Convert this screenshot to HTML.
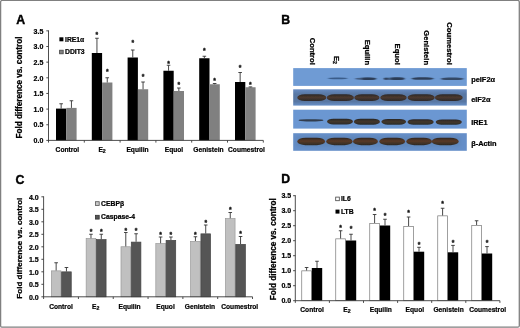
<!DOCTYPE html>
<html lang="en"><head><meta charset="utf-8"><title>Figure</title>
<style>html,body{margin:0;padding:0;background:#fff}body{width:520px;height:328px;overflow:hidden}svg{display:block}text{font-family:"Liberation Sans", sans-serif;}</style>
</head><body>
<svg width="520" height="328" viewBox="0 0 520 328">
<defs><filter id="b1" x="-20%" y="-100%" width="140%" height="300%"><feGaussianBlur stdDeviation="0.8 0.45"/></filter><filter id="b2" x="-20%" y="-50%" width="140%" height="200%"><feGaussianBlur stdDeviation="0.7 0.5"/></filter><linearGradient id="blue" x1="0" x2="1" y1="0" y2="0"><stop offset="0" stop-color="#5f8fd0"/><stop offset="0.5" stop-color="#6c98d2"/><stop offset="1" stop-color="#6794d0"/></linearGradient><linearGradient id="row2" x1="0" x2="0" y1="0" y2="1"><stop offset="0" stop-color="#678bc2"/><stop offset="0.3" stop-color="#5877a3"/><stop offset="0.75" stop-color="#5877a3"/><stop offset="1" stop-color="#6890c8"/></linearGradient><filter id="b3" x="-10%" y="-50%" width="120%" height="200%"><feGaussianBlur stdDeviation="2 1.5"/></filter><linearGradient id="brown" x1="0" x2="0" y1="0" y2="1"><stop offset="0" stop-color="#2e2622"/><stop offset="0.45" stop-color="#5a3a28"/><stop offset="1" stop-color="#2c2a26"/></linearGradient><linearGradient id="brown2" x1="0" x2="0" y1="0" y2="1"><stop offset="0" stop-color="#2c2828"/><stop offset="0.45" stop-color="#4c382e"/><stop offset="1" stop-color="#2c2a2a"/></linearGradient><linearGradient id="brown3" x1="0" x2="0" y1="0" y2="1"><stop offset="0" stop-color="#282626"/><stop offset="0.5" stop-color="#43372c"/><stop offset="1" stop-color="#282a2a"/></linearGradient></defs>
<rect x="0" y="0" width="520" height="328" fill="#fff"/>
<rect x="0.6" y="0.45" width="518.7" height="326.7" rx="1.5" ry="1.5" fill="none" stroke="#808080" stroke-width="1.3"/>
<rect x="56.00" y="108.60" width="10.30" height="31.80" fill="#000"/>
<path d="M61.15 108.60V103.75M59.35 103.75H62.95" stroke="#333" stroke-width="0.9" fill="none"/>
<rect x="66.30" y="107.90" width="10.30" height="32.50" fill="#808080"/>
<path d="M71.45 107.90V100.75M69.65 100.75H73.25" stroke="#333" stroke-width="0.9" fill="none"/>
<rect x="91.80" y="53.00" width="10.30" height="87.40" fill="#000"/>
<path d="M96.95 53.00V38.25M95.15 38.25H98.75" stroke="#333" stroke-width="0.9" fill="none"/>
<text x="96.95" y="36.70" font-size="6.8" text-anchor="middle" font-weight="bold" fill="#111" stroke="#111" stroke-width="0.3">*</text>
<rect x="102.10" y="82.50" width="10.30" height="57.90" fill="#808080"/>
<path d="M107.25 82.50V77.75M105.45 77.75H109.05" stroke="#333" stroke-width="0.9" fill="none"/>
<text x="107.25" y="74.45" font-size="6.8" text-anchor="middle" font-weight="bold" fill="#111" stroke="#111" stroke-width="0.3">*</text>
<rect x="127.60" y="57.50" width="10.30" height="82.90" fill="#000"/>
<path d="M132.75 57.50V50.00M130.95 50.00H134.55" stroke="#333" stroke-width="0.9" fill="none"/>
<text x="132.75" y="45.20" font-size="6.8" text-anchor="middle" font-weight="bold" fill="#111" stroke="#111" stroke-width="0.3">*</text>
<rect x="137.90" y="89.25" width="10.30" height="51.15" fill="#808080"/>
<path d="M143.05 89.25V82.00M141.25 82.00H144.85" stroke="#333" stroke-width="0.9" fill="none"/>
<text x="143.05" y="78.95" font-size="6.8" text-anchor="middle" font-weight="bold" fill="#111" stroke="#111" stroke-width="0.3">*</text>
<rect x="163.40" y="70.75" width="10.30" height="69.65" fill="#000"/>
<path d="M168.55 70.75V65.25M166.75 65.25H170.35" stroke="#333" stroke-width="0.9" fill="none"/>
<text x="168.55" y="65.95" font-size="6.8" text-anchor="middle" font-weight="bold" fill="#111" stroke="#111" stroke-width="0.3">*</text>
<rect x="173.70" y="91.00" width="10.30" height="49.40" fill="#808080"/>
<path d="M178.85 91.00V88.00M177.05 88.00H180.65" stroke="#333" stroke-width="0.9" fill="none"/>
<text x="178.85" y="87.20" font-size="6.8" text-anchor="middle" font-weight="bold" fill="#111" stroke="#111" stroke-width="0.3">*</text>
<rect x="199.20" y="58.25" width="10.30" height="82.15" fill="#000"/>
<path d="M204.35 58.25V56.25M202.55 56.25H206.15" stroke="#333" stroke-width="0.9" fill="none"/>
<text x="204.35" y="53.45" font-size="6.8" text-anchor="middle" font-weight="bold" fill="#111" stroke="#111" stroke-width="0.3">*</text>
<rect x="209.50" y="84.25" width="10.30" height="56.15" fill="#808080"/>
<path d="M214.65 84.25V83.50M212.85 83.50H216.45" stroke="#333" stroke-width="0.9" fill="none"/>
<text x="214.65" y="82.95" font-size="6.8" text-anchor="middle" font-weight="bold" fill="#111" stroke="#111" stroke-width="0.3">*</text>
<rect x="235.00" y="82.00" width="10.30" height="58.40" fill="#000"/>
<path d="M240.15 82.00V72.50M238.35 72.50H241.95" stroke="#333" stroke-width="0.9" fill="none"/>
<text x="240.15" y="70.20" font-size="6.8" text-anchor="middle" font-weight="bold" fill="#111" stroke="#111" stroke-width="0.3">*</text>
<rect x="245.30" y="87.25" width="10.30" height="53.15" fill="#808080"/>
<path d="M250.45 87.25V86.90M248.65 86.90H252.25" stroke="#333" stroke-width="0.9" fill="none"/>
<text x="250.45" y="87.20" font-size="6.8" text-anchor="middle" font-weight="bold" fill="#111" stroke="#111" stroke-width="0.3">*</text>
<path d="M48.5 30.35V142.60M46.3 140.4H263.30" stroke="#3a3a3a" stroke-width="0.9" fill="none"/>
<path d="M46.3 124.75H48.5M46.3 109.10H48.5M46.3 93.45H48.5M46.3 77.80H48.5M46.3 62.15H48.5M46.3 46.50H48.5M46.3 30.85H48.5M84.30 140.4V142.60M120.10 140.4V142.60M155.90 140.4V142.60M191.70 140.4V142.60M227.50 140.4V142.60M263.30 140.4V142.60" stroke="#3a3a3a" stroke-width="0.9" fill="none"/>
<text x="43.3" y="143.1" font-size="7.0" text-anchor="end" font-weight="bold" fill="#000" stroke="#000" stroke-width="0.22">0.0</text>
<text x="43.3" y="127.45" font-size="7.0" text-anchor="end" font-weight="bold" fill="#000" stroke="#000" stroke-width="0.22">0.5</text>
<text x="43.3" y="111.8" font-size="7.0" text-anchor="end" font-weight="bold" fill="#000" stroke="#000" stroke-width="0.22">1.0</text>
<text x="43.3" y="96.15" font-size="7.0" text-anchor="end" font-weight="bold" fill="#000" stroke="#000" stroke-width="0.22">1.5</text>
<text x="43.3" y="80.5" font-size="7.0" text-anchor="end" font-weight="bold" fill="#000" stroke="#000" stroke-width="0.22">2.0</text>
<text x="43.3" y="64.85" font-size="7.0" text-anchor="end" font-weight="bold" fill="#000" stroke="#000" stroke-width="0.22">2.5</text>
<text x="43.3" y="49.2" font-size="7.0" text-anchor="end" font-weight="bold" fill="#000" stroke="#000" stroke-width="0.22">3.0</text>
<text x="43.3" y="33.55" font-size="7.0" text-anchor="end" font-weight="bold" fill="#000" stroke="#000" stroke-width="0.22">3.5</text>
<text x="67.4" y="151.7" font-size="6.65" text-anchor="middle" font-weight="bold" fill="#000" stroke="#000" stroke-width="0.21">Control</text>
<text x="102.1" y="151.7" font-size="6.65" text-anchor="middle" font-weight="bold" fill="#000" stroke="#000" stroke-width="0.21">E<tspan font-size="5.2" dy="1.4">2</tspan></text>
<text x="137.5" y="151.7" font-size="6.65" text-anchor="middle" font-weight="bold" fill="#000" stroke="#000" stroke-width="0.21">Equilin</text>
<text x="174.0" y="151.7" font-size="6.65" text-anchor="middle" font-weight="bold" fill="#000" stroke="#000" stroke-width="0.21">Equol</text>
<text x="208.5" y="151.7" font-size="6.65" text-anchor="middle" font-weight="bold" fill="#000" stroke="#000" stroke-width="0.21">Genistein</text>
<text x="246.5" y="151.7" font-size="6.65" text-anchor="middle" font-weight="bold" fill="#000" stroke="#000" stroke-width="0.21">Coumestrol</text>
<text x="21.6" y="87.5" font-size="8.17" text-anchor="middle" font-weight="bold" fill="#000" stroke="#000" stroke-width="0.26" transform="rotate(-90 21.6 87.5)">Fold difference vs. control</text>
<text x="16.2" y="24.2" font-size="12.3" text-anchor="start" font-weight="bold" fill="#000" stroke="#000" stroke-width="0.39">A</text>
<rect x="59.4" y="37.3" width="4" height="4" fill="#000"/>
<text x="65" y="41.6" font-size="6.8" text-anchor="start" font-weight="bold" fill="#000" stroke="#000" stroke-width="0.22">IRE1α</text>
<rect x="59.6" y="50.2" width="3.6" height="3.6" fill="#808080" stroke="#444" stroke-width="0.8"/>
<text x="65" y="54.1" font-size="6.8" text-anchor="start" font-weight="bold" fill="#000" stroke="#000" stroke-width="0.22">DDIT3</text>
<rect x="51.35" y="270.85" width="9.60" height="25.95" fill="#c0c0c0" stroke="#999" stroke-width="0.7"/>
<path d="M56.15 270.50V262.75M54.35 262.75H57.95" stroke="#333" stroke-width="0.9" fill="none"/>
<rect x="61.65" y="271.85" width="9.60" height="24.95" fill="#555" stroke="#444" stroke-width="0.7"/>
<path d="M66.45 271.50V267.50M64.65 267.50H68.25" stroke="#333" stroke-width="0.9" fill="none"/>
<rect x="86.17" y="238.60" width="9.60" height="58.20" fill="#c0c0c0" stroke="#999" stroke-width="0.7"/>
<path d="M90.97 238.25V234.25M89.17 234.25H92.77" stroke="#333" stroke-width="0.9" fill="none"/>
<text x="90.97" y="234.45" font-size="6.8" text-anchor="middle" font-weight="bold" fill="#111" stroke="#111" stroke-width="0.3">*</text>
<rect x="96.47" y="239.60" width="9.60" height="57.20" fill="#555" stroke="#444" stroke-width="0.7"/>
<path d="M101.27 239.25V234.25M99.47 234.25H103.07" stroke="#333" stroke-width="0.9" fill="none"/>
<text x="101.27" y="234.45" font-size="6.8" text-anchor="middle" font-weight="bold" fill="#111" stroke="#111" stroke-width="0.3">*</text>
<rect x="120.99" y="246.75" width="9.60" height="50.05" fill="#c0c0c0" stroke="#999" stroke-width="0.7"/>
<path d="M125.79 246.40V232.50M123.99 232.50H127.59" stroke="#333" stroke-width="0.9" fill="none"/>
<text x="125.79" y="233.45" font-size="6.8" text-anchor="middle" font-weight="bold" fill="#111" stroke="#111" stroke-width="0.3">*</text>
<rect x="131.29" y="242.10" width="9.60" height="54.70" fill="#555" stroke="#444" stroke-width="0.7"/>
<path d="M136.09 241.75V233.75M134.29 233.75H137.89" stroke="#333" stroke-width="0.9" fill="none"/>
<text x="136.09" y="233.45" font-size="6.8" text-anchor="middle" font-weight="bold" fill="#111" stroke="#111" stroke-width="0.3">*</text>
<rect x="155.81" y="243.60" width="9.60" height="53.20" fill="#c0c0c0" stroke="#999" stroke-width="0.7"/>
<path d="M160.61 243.25V237.00M158.81 237.00H162.41" stroke="#333" stroke-width="0.9" fill="none"/>
<text x="160.61" y="237.20" font-size="6.8" text-anchor="middle" font-weight="bold" fill="#111" stroke="#111" stroke-width="0.3">*</text>
<rect x="166.11" y="240.35" width="9.60" height="56.45" fill="#555" stroke="#444" stroke-width="0.7"/>
<path d="M170.91 240.00V237.00M169.11 237.00H172.71" stroke="#333" stroke-width="0.9" fill="none"/>
<text x="170.91" y="236.70" font-size="6.8" text-anchor="middle" font-weight="bold" fill="#111" stroke="#111" stroke-width="0.3">*</text>
<rect x="190.63" y="241.35" width="9.60" height="55.45" fill="#c0c0c0" stroke="#999" stroke-width="0.7"/>
<path d="M195.43 241.00V236.75M193.63 236.75H197.23" stroke="#333" stroke-width="0.9" fill="none"/>
<text x="195.43" y="236.95" font-size="6.8" text-anchor="middle" font-weight="bold" fill="#111" stroke="#111" stroke-width="0.3">*</text>
<rect x="200.93" y="233.85" width="9.60" height="62.95" fill="#555" stroke="#444" stroke-width="0.7"/>
<path d="M205.73 233.50V225.00M203.93 225.00H207.53" stroke="#333" stroke-width="0.9" fill="none"/>
<text x="205.73" y="224.70" font-size="6.8" text-anchor="middle" font-weight="bold" fill="#111" stroke="#111" stroke-width="0.3">*</text>
<rect x="225.45" y="218.60" width="9.60" height="78.20" fill="#c0c0c0" stroke="#999" stroke-width="0.7"/>
<path d="M230.25 218.25V212.50M228.45 212.50H232.05" stroke="#333" stroke-width="0.9" fill="none"/>
<text x="230.25" y="212.20" font-size="6.8" text-anchor="middle" font-weight="bold" fill="#111" stroke="#111" stroke-width="0.3">*</text>
<rect x="235.75" y="244.35" width="9.60" height="52.45" fill="#555" stroke="#444" stroke-width="0.7"/>
<path d="M240.55 244.00V236.50M238.75 236.50H242.35" stroke="#333" stroke-width="0.9" fill="none"/>
<text x="240.55" y="236.45" font-size="6.8" text-anchor="middle" font-weight="bold" fill="#111" stroke="#111" stroke-width="0.3">*</text>
<path d="M43.6 196.30V299.00M41.4 296.8H252.52" stroke="#3a3a3a" stroke-width="0.9" fill="none"/>
<path d="M41.4 284.30H43.6M41.4 271.80H43.6M41.4 259.30H43.6M41.4 246.80H43.6M41.4 234.30H43.6M41.4 221.80H43.6M41.4 209.30H43.6M41.4 196.80H43.6M78.42 296.8V299.00M113.24 296.8V299.00M148.06 296.8V299.00M182.88 296.8V299.00M217.70 296.8V299.00M252.52 296.8V299.00" stroke="#3a3a3a" stroke-width="0.9" fill="none"/>
<text x="38.7" y="299.5" font-size="7.0" text-anchor="end" font-weight="bold" fill="#000" stroke="#000" stroke-width="0.22">0.0</text>
<text x="38.7" y="287.0" font-size="7.0" text-anchor="end" font-weight="bold" fill="#000" stroke="#000" stroke-width="0.22">0.5</text>
<text x="38.7" y="274.5" font-size="7.0" text-anchor="end" font-weight="bold" fill="#000" stroke="#000" stroke-width="0.22">1.0</text>
<text x="38.7" y="262.0" font-size="7.0" text-anchor="end" font-weight="bold" fill="#000" stroke="#000" stroke-width="0.22">1.5</text>
<text x="38.7" y="249.5" font-size="7.0" text-anchor="end" font-weight="bold" fill="#000" stroke="#000" stroke-width="0.22">2.0</text>
<text x="38.7" y="237.0" font-size="7.0" text-anchor="end" font-weight="bold" fill="#000" stroke="#000" stroke-width="0.22">2.5</text>
<text x="38.7" y="224.5" font-size="7.0" text-anchor="end" font-weight="bold" fill="#000" stroke="#000" stroke-width="0.22">3.0</text>
<text x="38.7" y="212.0" font-size="7.0" text-anchor="end" font-weight="bold" fill="#000" stroke="#000" stroke-width="0.22">3.5</text>
<text x="38.7" y="199.5" font-size="7.0" text-anchor="end" font-weight="bold" fill="#000" stroke="#000" stroke-width="0.22">4.0</text>
<text x="61.01" y="308.8" font-size="6.65" text-anchor="middle" font-weight="bold" fill="#000" stroke="#000" stroke-width="0.21">Control</text>
<text x="95.78" y="308.8" font-size="6.65" text-anchor="middle" font-weight="bold" fill="#000" stroke="#000" stroke-width="0.21">E<tspan font-size="5.2" dy="1.4">2</tspan></text>
<text x="129.55" y="308.8" font-size="6.65" text-anchor="middle" font-weight="bold" fill="#000" stroke="#000" stroke-width="0.21">Equilin</text>
<text x="165.57" y="308.8" font-size="6.65" text-anchor="middle" font-weight="bold" fill="#000" stroke="#000" stroke-width="0.21">Equol</text>
<text x="199.99" y="308.8" font-size="6.65" text-anchor="middle" font-weight="bold" fill="#000" stroke="#000" stroke-width="0.21">Genistein</text>
<text x="239.71" y="308.8" font-size="6.65" text-anchor="middle" font-weight="bold" fill="#000" stroke="#000" stroke-width="0.21">Coumestrol</text>
<text x="22.3" y="248.2" font-size="8.09" text-anchor="middle" font-weight="bold" fill="#000" stroke="#000" stroke-width="0.26" transform="rotate(-90 22.3 248.2)">Fold difference vs. control</text>
<text x="15.6" y="183.5" font-size="12.3" text-anchor="start" font-weight="bold" fill="#000" stroke="#000" stroke-width="0.39">C</text>
<rect x="95.4" y="201.7" width="3.8" height="3.8" fill="#c8c8c8" stroke="#555" stroke-width="0.8"/>
<text x="101.1" y="205.6" font-size="6.8" text-anchor="start" font-weight="bold" fill="#000" stroke="#000" stroke-width="0.22">CEBPβ</text>
<rect x="95.4" y="215.3" width="3.8" height="3.8" fill="#555" stroke="#333" stroke-width="0.8"/>
<text x="101.1" y="219.2" font-size="6.8" text-anchor="start" font-weight="bold" fill="#000" stroke="#000" stroke-width="0.22">Caspase-4</text>
<rect x="301.75" y="270.85" width="9.70" height="29.85" fill="#fff" stroke="#777" stroke-width="0.7"/>
<path d="M306.60 270.50V267.50M304.80 267.50H308.40" stroke="#333" stroke-width="0.9" fill="none"/>
<rect x="311.80" y="268.00" width="10.40" height="32.70" fill="#000"/>
<path d="M317.00 268.00V261.25M315.20 261.25H318.80" stroke="#333" stroke-width="0.9" fill="none"/>
<rect x="335.75" y="238.85" width="9.70" height="61.85" fill="#fff" stroke="#777" stroke-width="0.7"/>
<path d="M340.60 238.50V230.75M338.80 230.75H342.40" stroke="#333" stroke-width="0.9" fill="none"/>
<text x="340.60" y="230.20" font-size="6.8" text-anchor="middle" font-weight="bold" fill="#111" stroke="#111" stroke-width="0.3">*</text>
<rect x="345.80" y="240.50" width="10.40" height="60.20" fill="#000"/>
<path d="M351.00 240.50V234.25M349.20 234.25H352.80" stroke="#333" stroke-width="0.9" fill="none"/>
<text x="351.00" y="231.45" font-size="6.8" text-anchor="middle" font-weight="bold" fill="#111" stroke="#111" stroke-width="0.3">*</text>
<rect x="369.75" y="223.35" width="9.70" height="77.35" fill="#fff" stroke="#777" stroke-width="0.7"/>
<path d="M374.60 223.00V214.50M372.80 214.50H376.40" stroke="#333" stroke-width="0.9" fill="none"/>
<text x="374.60" y="212.70" font-size="6.8" text-anchor="middle" font-weight="bold" fill="#111" stroke="#111" stroke-width="0.3">*</text>
<rect x="379.80" y="225.50" width="10.40" height="75.20" fill="#000"/>
<path d="M385.00 225.50V219.25M383.20 219.25H386.80" stroke="#333" stroke-width="0.9" fill="none"/>
<text x="385.00" y="218.45" font-size="6.8" text-anchor="middle" font-weight="bold" fill="#111" stroke="#111" stroke-width="0.3">*</text>
<rect x="403.75" y="226.35" width="9.70" height="74.35" fill="#fff" stroke="#777" stroke-width="0.7"/>
<path d="M408.60 226.00V217.00M406.80 217.00H410.40" stroke="#333" stroke-width="0.9" fill="none"/>
<text x="408.60" y="215.45" font-size="6.8" text-anchor="middle" font-weight="bold" fill="#111" stroke="#111" stroke-width="0.3">*</text>
<rect x="413.80" y="251.70" width="10.40" height="49.00" fill="#000"/>
<path d="M419.00 251.70V247.30M417.20 247.30H420.80" stroke="#333" stroke-width="0.9" fill="none"/>
<text x="419.00" y="246.65" font-size="6.8" text-anchor="middle" font-weight="bold" fill="#111" stroke="#111" stroke-width="0.3">*</text>
<rect x="437.75" y="215.85" width="9.70" height="84.85" fill="#fff" stroke="#777" stroke-width="0.7"/>
<path d="M442.60 215.50V208.25M440.80 208.25H444.40" stroke="#333" stroke-width="0.9" fill="none"/>
<text x="442.60" y="206.45" font-size="6.8" text-anchor="middle" font-weight="bold" fill="#111" stroke="#111" stroke-width="0.3">*</text>
<rect x="447.80" y="252.30" width="10.40" height="48.40" fill="#000"/>
<path d="M453.00 252.30V245.40M451.20 245.40H454.80" stroke="#333" stroke-width="0.9" fill="none"/>
<text x="453.00" y="244.95" font-size="6.8" text-anchor="middle" font-weight="bold" fill="#111" stroke="#111" stroke-width="0.3">*</text>
<rect x="471.75" y="225.35" width="9.70" height="75.35" fill="#fff" stroke="#777" stroke-width="0.7"/>
<path d="M476.60 225.00V220.75M474.80 220.75H478.40" stroke="#333" stroke-width="0.9" fill="none"/>
<rect x="481.80" y="253.50" width="10.40" height="47.20" fill="#000"/>
<path d="M487.00 253.50V246.60M485.20 246.60H488.80" stroke="#333" stroke-width="0.9" fill="none"/>
<text x="487.00" y="245.45" font-size="6.8" text-anchor="middle" font-weight="bold" fill="#111" stroke="#111" stroke-width="0.3">*</text>
<path d="M295.3 195.20V302.90M293.1 300.7H499.90" stroke="#3a3a3a" stroke-width="0.9" fill="none"/>
<path d="M293.1 285.70H295.3M293.1 270.70H295.3M293.1 255.70H295.3M293.1 240.70H295.3M293.1 225.70H295.3M293.1 210.70H295.3M293.1 195.70H295.3M329.40 300.7V302.90M363.50 300.7V302.90M397.60 300.7V302.90M431.70 300.7V302.90M465.80 300.7V302.90M499.90 300.7V302.90" stroke="#3a3a3a" stroke-width="0.9" fill="none"/>
<text x="291.2" y="303.4" font-size="7.0" text-anchor="end" font-weight="bold" fill="#000" stroke="#000" stroke-width="0.22">0.0</text>
<text x="291.2" y="288.4" font-size="7.0" text-anchor="end" font-weight="bold" fill="#000" stroke="#000" stroke-width="0.22">0.5</text>
<text x="291.2" y="273.4" font-size="7.0" text-anchor="end" font-weight="bold" fill="#000" stroke="#000" stroke-width="0.22">1.0</text>
<text x="291.2" y="258.4" font-size="7.0" text-anchor="end" font-weight="bold" fill="#000" stroke="#000" stroke-width="0.22">1.5</text>
<text x="291.2" y="243.4" font-size="7.0" text-anchor="end" font-weight="bold" fill="#000" stroke="#000" stroke-width="0.22">2.0</text>
<text x="291.2" y="228.4" font-size="7.0" text-anchor="end" font-weight="bold" fill="#000" stroke="#000" stroke-width="0.22">2.5</text>
<text x="291.2" y="213.4" font-size="7.0" text-anchor="end" font-weight="bold" fill="#000" stroke="#000" stroke-width="0.22">3.0</text>
<text x="291.2" y="198.4" font-size="7.0" text-anchor="end" font-weight="bold" fill="#000" stroke="#000" stroke-width="0.22">3.5</text>
<text x="312.1" y="312.0" font-size="6.65" text-anchor="middle" font-weight="bold" fill="#000" stroke="#000" stroke-width="0.21">Control</text>
<text x="347.0" y="312.0" font-size="6.65" text-anchor="middle" font-weight="bold" fill="#000" stroke="#000" stroke-width="0.21">E<tspan font-size="5.2" dy="1.4">2</tspan></text>
<text x="380.85" y="312.0" font-size="6.65" text-anchor="middle" font-weight="bold" fill="#000" stroke="#000" stroke-width="0.21">Equilin</text>
<text x="414.85" y="312.0" font-size="6.65" text-anchor="middle" font-weight="bold" fill="#000" stroke="#000" stroke-width="0.21">Equol</text>
<text x="448.6" y="312.0" font-size="6.65" text-anchor="middle" font-weight="bold" fill="#000" stroke="#000" stroke-width="0.21">Genistein</text>
<text x="487.6" y="312.0" font-size="6.65" text-anchor="middle" font-weight="bold" fill="#000" stroke="#000" stroke-width="0.21">Coumestrol</text>
<text x="275.7" y="249.2" font-size="8.17" text-anchor="middle" font-weight="bold" fill="#000" stroke="#000" stroke-width="0.26" transform="rotate(-90 275.7 249.2)">Fold difference vs. control</text>
<text x="281.3" y="183.2" font-size="12.3" text-anchor="start" font-weight="bold" fill="#000" stroke="#000" stroke-width="0.39">D</text>
<rect x="335.7" y="197.1" width="3.6" height="3.6" fill="#fff" stroke="#444" stroke-width="0.8"/>
<text x="340.9" y="201.1" font-size="6.8" text-anchor="start" font-weight="bold" fill="#000" stroke="#000" stroke-width="0.22">IL6</text>
<rect x="335.5" y="209.6" width="4" height="4" fill="#000"/>
<text x="340.9" y="213.6" font-size="6.8" text-anchor="start" font-weight="bold" fill="#000" stroke="#000" stroke-width="0.22">LTB</text>
<text x="281.3" y="24.0" font-size="12.3" text-anchor="start" font-weight="bold" fill="#000" stroke="#000" stroke-width="0.39">B</text>
<text x="310.0" y="64.9" font-size="7.65" text-anchor="end" font-weight="bold" stroke="#000" stroke-width="0.25" transform="rotate(90 310.0 64.9)">Control</text>
<text x="333.9" y="63.9" font-size="7.65" text-anchor="end" font-weight="bold" stroke="#000" stroke-width="0.25" transform="rotate(90 333.9 63.9)">E<tspan font-size="5.2" dy="1.4">2</tspan></text>
<text x="365.0" y="65.1" font-size="7.65" text-anchor="end" font-weight="bold" stroke="#000" stroke-width="0.25" transform="rotate(90 365.0 65.1)">Equilin</text>
<text x="394.7" y="64.8" font-size="7.65" text-anchor="end" font-weight="bold" stroke="#000" stroke-width="0.25" transform="rotate(90 394.7 64.8)">Equol</text>
<text x="423.7" y="65.1" font-size="7.65" text-anchor="end" font-weight="bold" stroke="#000" stroke-width="0.25" transform="rotate(90 423.7 65.1)">Genistein</text>
<text x="446.9" y="64.8" font-size="7.65" text-anchor="end" font-weight="bold" stroke="#000" stroke-width="0.25" transform="rotate(90 446.9 64.8)">Coumestrol</text>
<rect x="293.2" y="68.1" width="173.60" height="17.80" fill="#6f9bd4"/>
<text x="471.2" y="81.6" font-size="7.4" text-anchor="start" font-weight="bold" fill="#000" stroke="#000" stroke-width="0.24">peIF2α</text>
<rect x="293.2" y="89.3" width="173.60" height="16.30" fill="url(#row2)"/>
<text x="471.2" y="102.1" font-size="7.4" text-anchor="start" font-weight="bold" fill="#000" stroke="#000" stroke-width="0.24">eIF2α</text>
<rect x="293.2" y="109.7" width="173.60" height="18.90" fill="#6b97d2"/>
<text x="471.2" y="124.8" font-size="7.4" text-anchor="start" font-weight="bold" fill="#000" stroke="#000" stroke-width="0.24">IRE1</text>
<rect x="293.2" y="133.2" width="173.60" height="17.60" fill="#668fc9"/>
<text x="471.2" y="146.0" font-size="7.4" text-anchor="start" font-weight="bold" fill="#000" stroke="#000" stroke-width="0.24">β-Actin</text>
<rect x="296" y="136" width="164" height="10.5" fill="#55789f" opacity="0.35" filter="url(#b3)"/>
<rect x="297.30" y="94.30" width="29.00" height="6.70" rx="7.37" ry="3.35" fill="url(#brown2)" opacity="1" filter="url(#b2)"/>
<rect x="326.80" y="94.30" width="27.10" height="6.70" rx="7.37" ry="3.35" fill="url(#brown2)" opacity="1" filter="url(#b2)"/>
<rect x="354.30" y="94.30" width="25.20" height="6.70" rx="7.37" ry="3.35" fill="url(#brown2)" opacity="1" filter="url(#b2)"/>
<rect x="380.30" y="94.30" width="26.40" height="6.70" rx="7.37" ry="3.35" fill="url(#brown2)" opacity="1" filter="url(#b2)"/>
<rect x="407.60" y="94.30" width="27.10" height="6.70" rx="7.37" ry="3.35" fill="url(#brown2)" opacity="1" filter="url(#b2)"/>
<rect x="434.90" y="94.30" width="27.80" height="6.70" rx="7.37" ry="3.35" fill="url(#brown2)" opacity="1" filter="url(#b2)"/>
<rect x="298.50" y="119.30" width="25.00" height="2.10" rx="8.00" ry="1.05" fill="#2f3846" opacity="0.95" filter="url(#b2)"/>
<rect x="327.00" y="118.70" width="26.00" height="5.70" rx="6.27" ry="2.85" fill="url(#brown3)" opacity="1" filter="url(#b2)"/>
<rect x="353.90" y="118.70" width="26.00" height="6.00" rx="6.60" ry="3.00" fill="url(#brown3)" opacity="1" filter="url(#b2)"/>
<rect x="381.40" y="118.90" width="24.70" height="5.80" rx="6.38" ry="2.90" fill="url(#brown3)" opacity="1" filter="url(#b2)"/>
<rect x="407.50" y="119.20" width="26.20" height="5.50" rx="6.05" ry="2.75" fill="url(#brown3)" opacity="1" filter="url(#b2)"/>
<rect x="435.70" y="119.50" width="26.10" height="5.20" rx="5.85" ry="2.60" fill="url(#brown3)" opacity="1" filter="url(#b2)"/>
<rect x="297.30" y="137.70" width="27.80" height="7.50" rx="8.25" ry="3.75" fill="url(#brown)" opacity="1" filter="url(#b2)"/>
<rect x="326.20" y="137.70" width="26.40" height="7.50" rx="8.25" ry="3.75" fill="url(#brown)" opacity="1" filter="url(#b2)"/>
<rect x="353.00" y="137.70" width="24.90" height="7.50" rx="8.25" ry="3.75" fill="url(#brown)" opacity="1" filter="url(#b2)"/>
<rect x="379.30" y="137.70" width="25.80" height="7.50" rx="8.25" ry="3.75" fill="url(#brown)" opacity="1" filter="url(#b2)"/>
<rect x="406.30" y="137.70" width="25.70" height="7.50" rx="8.25" ry="3.75" fill="url(#brown)" opacity="1" filter="url(#b2)"/>
<rect x="431.80" y="137.70" width="26.90" height="7.50" rx="8.25" ry="3.75" fill="url(#brown)" opacity="1" filter="url(#b2)"/>
<rect x="328.00" y="77.60" width="19.50" height="1.70" rx="7.80" ry="0.85" fill="#355783" opacity="0.9" filter="url(#b1)"/>
<rect x="355.00" y="77.60" width="21.20" height="2.30" rx="8.48" ry="1.15" fill="#26344c" opacity="0.6" filter="url(#b1)"/>
<rect x="362.00" y="77.40" width="14.00" height="2.60" rx="5.60" ry="1.30" fill="#26344c" opacity="0.8" filter="url(#b1)"/>
<rect x="383.50" y="77.60" width="21.00" height="2.30" rx="6.72" ry="1.15" fill="#26344c" opacity="0.6" filter="url(#b1)"/>
<rect x="384.00" y="77.60" width="4.00" height="2.40" rx="2.00" ry="1.20" fill="#26344c" opacity="0.7" filter="url(#b1)"/>
<rect x="391.00" y="77.30" width="13.40" height="2.80" rx="5.36" ry="1.40" fill="#26344c" opacity="0.8" filter="url(#b1)"/>
<rect x="411.50" y="77.30" width="22.30" height="2.50" rx="7.14" ry="1.25" fill="#26344c" opacity="0.9" filter="url(#b1)"/>
<rect x="440.60" y="77.60" width="23.20" height="2.40" rx="7.42" ry="1.20" fill="#26344c" opacity="0.8" filter="url(#b1)"/>
</svg>
</body></html>
